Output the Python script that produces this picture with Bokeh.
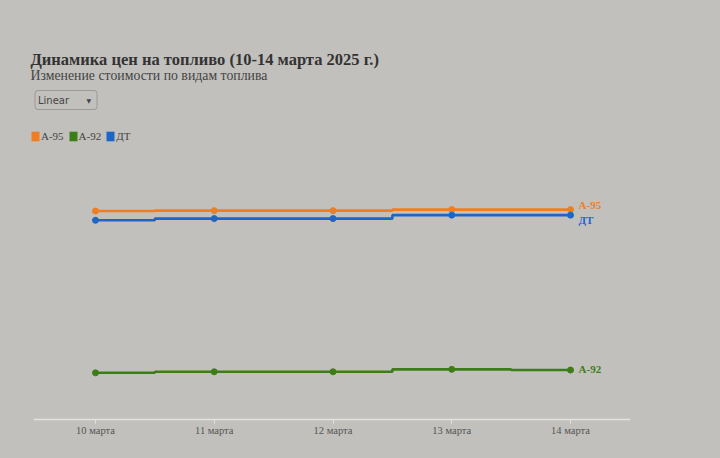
from bokeh.plotting import figure
from bokeh.models import Range1d, Label, Legend, LegendItem, FixedTicker, ColumnDataSource
from bokeh.embed import file_html
from bokeh.resources import INLINE
from bokeh.core.templates import get_env

dates = ["10 марта", "11 марта", "12 марта", "13 марта", "14 марта"]
a95 = [61.62, 61.63, 61.63, 61.66, 61.66]
a92 = [56.93, 56.96, 56.96, 57.03, 57.01]
dt = [61.35, 61.40, 61.40, 61.50, 61.50]

series = [("А-95", a95, "#f07d22"), ("А-92", a92, "#3d7d18"), ("ДТ", dt, "#1a67c8")]
label_offsets = {"А-95": 5, "А-92": 1, "ДТ": -5}

BG = "#c1c0bc"
SERIF = "'Liberation Serif', 'DejaVu Serif', serif"

W, H = 716, 456
FB = 419  # frame bottom (px from top)
X0, X1 = -0.8, 4.505
AXIS_START = -0.522
p = figure(width=W, height=H, output_backend="svg", toolbar_location=None,
           x_range=Range1d(X0, X1), y_range=Range1d(55.577, 67.721),
           y_axis_location=None, min_border_left=0, min_border_right=W - 630,
           min_border_top=0, min_border_bottom=H - FB)
p.background_fill_color = BG
p.border_fill_color = BG
p.outline_line_color = None
p.grid.visible = False

x = list(range(len(dates)))
legend_renderers = []
for name, ys, col in series:
    src = ColumnDataSource(dict(x=x, y=ys))
    p.step("x", "y", source=src, mode="center", line_color=col, line_width=2.6)
    p.scatter("x", "y", source=src, size=6, color=col)
    lr = p.vbar(x="x", top="y", width=0.1, source=src, fill_color=col, line_color=None, visible=False)
    legend_renderers.append((name, lr))
    p.add_layout(Label(x=x[-1], y=ys[-1], text=name, x_offset=8, y_offset=label_offsets[name],
                       text_color=col, text_font=SERIF, text_font_style="bold",
                       text_font_size="11px", text_baseline="middle"))

ax = p.xaxis[0]
ax.ticker = FixedTicker(ticks=x)
ax.bounds = (AXIS_START, X1)
ax.major_label_overrides = {i: d for i, d in enumerate(dates)}
ax.axis_line_color = "#e2e2e0"
ax.axis_line_width = 1.5
ax.major_tick_line_color = "#e2e2e0"
ax.major_tick_out = 4
ax.major_tick_in = 0
ax.minor_tick_line_color = None
ax.major_label_text_font = SERIF
ax.major_label_text_font_size = "10.5px"
ax.major_label_text_color = "#555555"
ax.major_label_standoff = 1

def sy(y_top):
    return FB - y_top

# Title and subtitle
p.add_layout(Label(x=30, y=sy(59), x_units="screen", y_units="screen",
                   text="Динамика цен на топливо (10-14 марта 2025 г.)",
                   text_font=SERIF, text_font_style="bold", text_font_size="16.5px",
                   text_color="#333333", text_baseline="middle"))
p.add_layout(Label(x=30, y=sy(75), x_units="screen", y_units="screen",
                   text="Изменение стоимости по видам топлива",
                   text_font=SERIF, text_font_size="13.8px",
                   text_color="#444444", text_baseline="middle"))
# Dropdown imitation
p.add_layout(Label(x=34.5, y=sy(99.5), x_units="screen", y_units="screen",
                   text="Linear", text_font="DejaVu Sans", text_font_size="10px",
                   text_color="#444444", text_baseline="middle",
                   border_line_color="#9a9a98", border_line_width=1,
                   background_fill_color=BG,
                   padding=dict(left=3, right=28, top=4, bottom=4), border_radius=3))
p.add_layout(Label(x=86, y=sy(99.5), x_units="screen", y_units="screen",
                   text="▼", text_font="DejaVu Sans", text_font_size="6px",
                   text_color="#444444", text_baseline="middle"))

# Legend
items = [LegendItem(label=name, renderers=[r]) for name, r in legend_renderers]
leg = Legend(items=items, orientation="horizontal", location=(30, sy(142)),
             label_text_font=SERIF, label_text_font_size="11px", label_text_color="#444444",
             glyph_width=10, glyph_height=12, spacing=4, label_standoff=1,
             background_fill_alpha=0, border_line_color=None, padding=0, margin=0)
p.add_layout(leg, "center")

tmpl = get_env().from_string("""{% extends "file.html" %}
{% block postamble %}<style>html, body { background: """ + BG + """; }</style>{% endblock %}""")

open("out.html", "w").write(file_html(p, INLINE, template=tmpl))
